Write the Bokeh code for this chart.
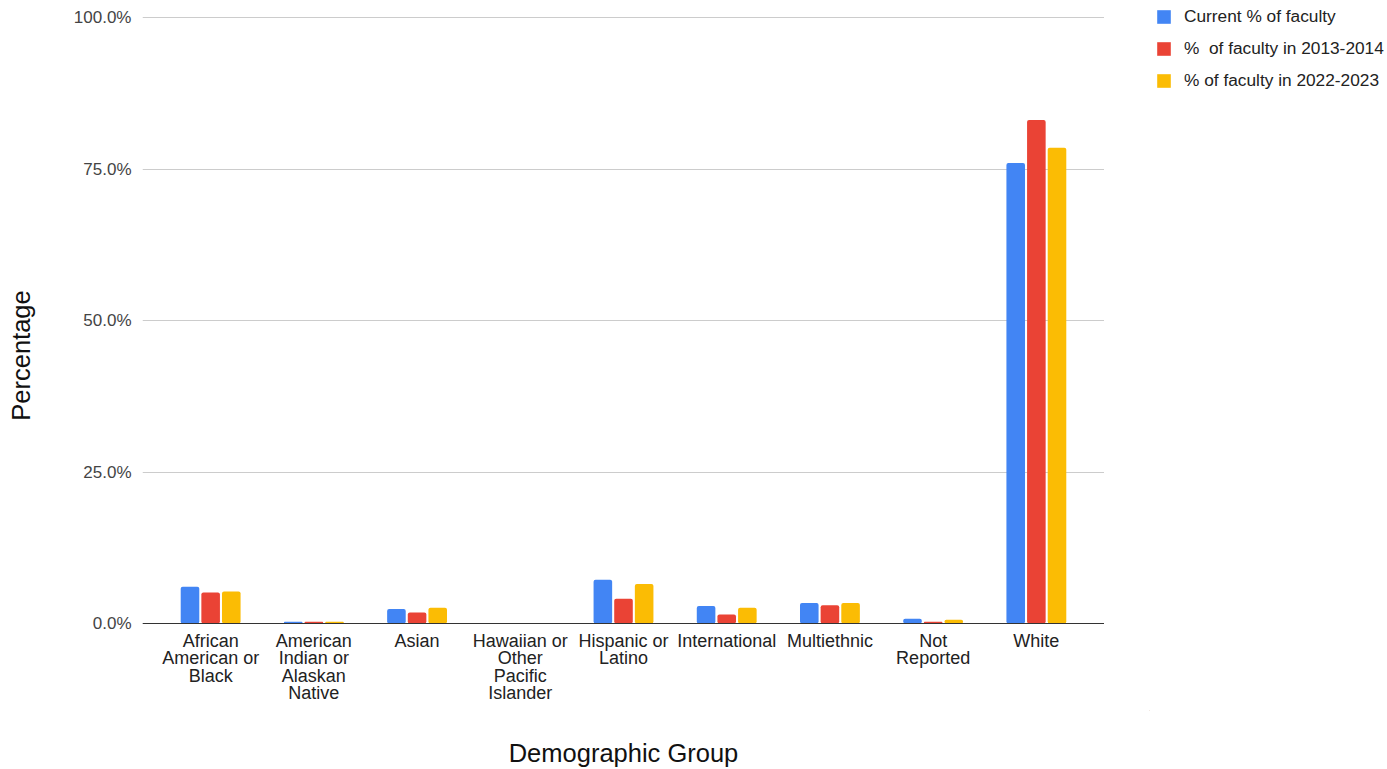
from bokeh.plotting import figure
from bokeh.layouts import row
from bokeh.models import (ColumnDataSource, FactorRange, FixedTicker, Legend, LegendItem, Span)
from bokeh.transform import dodge
from bokeh.embed import file_html
from bokeh.resources import INLINE

categories = ["African American or Black", "American Indian or Alaskan Native", "Asian",
              "Hawaiian or Other Pacific Islander", "Hispanic or Latino", "International",
              "Multiethnic", "Not Reported", "White"]
category_lines = [["African", "American or", "Black"], ["American", "Indian or", "Alaskan", "Native"],
                  ["Asian"], ["Hawaiian or", "Other", "Pacific", "Islander"], ["Hispanic or", "Latino"],
                  ["International"], ["Multiethnic"], ["Not", "Reported"], ["White"]]
current_pct = [6.05, 0.3, 2.4, 0.0, 7.2, 2.9, 3.4, 0.8, 76.0]
pct_2013_2014 = [5.1, 0.3, 1.8, 0.1, 4.1, 1.5, 3.0, 0.3, 83.1]
pct_2022_2023 = [5.3, 0.3, 2.6, 0.0, 6.5, 2.6, 3.4, 0.6, 78.5]
series_names = ["Current % of faculty", "%  of faculty in 2013-2014", "% of faculty in 2022-2023"]
colors = ["#4285F4", "#EA4335", "#FBBC04"]
y_ticks = [0, 25, 50, 75, 100]

FONT = "Liberation Sans"

# layout geometry (pixels)
W_MAIN, W_SIDE, H = 1104, 283, 769
TOP_100, ZERO_Y, FRAME_BOTTOM, LEFT = 17, 623, 710, 142
px_per_unit = (ZERO_Y - TOP_100) / 100.0
y_start = -(FRAME_BOTTOM - ZERO_Y) / px_per_unit
y_end = 100 + TOP_100 / px_per_unit

source = ColumnDataSource(dict(cat=categories, a=current_pct, b=pct_2013_2014, c=pct_2022_2023))

p = figure(width=W_MAIN, height=H, x_range=FactorRange(*categories, range_padding=0.0356),
           y_range=(y_start, y_end), output_backend="svg", toolbar_location=None,
           min_border_left=LEFT, min_border_right=0, min_border_top=0,
           min_border_bottom=H - FRAME_BOTTOM)
p.outline_line_color = None

renderers = []
for key, off, col in zip(["a", "b", "c"], [-0.2, 0.0, 0.2], colors):
    r = p.vbar(x=dodge("cat", off, range=p.x_range), top=key, width=0.18, source=source,
               fill_color=col, line_color=None, border_radius=2)
    renderers.append(r)

p.add_layout(Span(location=0, dimension="width", line_color="#333333", line_width=1))

# multi-line category labels under the baseline
lab_x, lab_t, lab_dy = [], [], []
for cat, lines in zip(categories, category_lines):
    for j, line in enumerate(lines):
        lab_x.append(cat)
        lab_t.append(line)
        lab_dy.append(17 + 17.5 * j)
lab_src = ColumnDataSource(dict(x=lab_x, y=[0] * len(lab_x), t=lab_t, dy=lab_dy))
p.text(x="x", y="y", text="t", y_offset="dy", source=lab_src, text_align="center",
       text_baseline="middle", text_font={"value": FONT}, text_font_size="18px",
       text_color="#222222")

# x axis: only the title
p.xaxis.ticker = FixedTicker(ticks=[])
p.xaxis.axis_line_color = None
p.xaxis.major_tick_line_color = None
p.xaxis.minor_tick_line_color = None
p.xaxis.axis_label = "Demographic Group"
p.xaxis.axis_label_text_font = FONT
p.xaxis.axis_label_text_font_size = "25.5px"
p.xaxis.axis_label_text_font_style = "normal"
p.xaxis.axis_label_text_color = "#111111"
p.xaxis.axis_label_standoff = 28
p.xgrid.grid_line_color = None

p.yaxis.ticker = FixedTicker(ticks=y_ticks)
p.yaxis.major_label_overrides = {t: f"{t:.1f}%" for t in y_ticks}
p.yaxis.major_tick_line_color = None
p.yaxis.minor_tick_line_color = None
p.yaxis.axis_line_color = None
p.yaxis.major_label_text_font = FONT
p.yaxis.major_label_text_font_size = "17px"
p.yaxis.major_label_text_color = "#444444"
p.yaxis.major_label_standoff = 5
p.yaxis.axis_label = "Percentage"
p.yaxis.axis_label_text_font = FONT
p.yaxis.axis_label_text_font_size = "25.5px"
p.yaxis.axis_label_text_font_style = "normal"
p.yaxis.axis_label_text_color = "#111111"
p.yaxis.axis_label_standoff = 36
p.ygrid.grid_line_color = "#CCCCCC"

# side panel holding the legend
s = figure(width=W_SIDE, height=H, x_range=(1, 2), y_range=(1, 2), output_backend="svg",
           toolbar_location=None, x_axis_location=None, y_axis_location=None, title=None,
           min_border_left=45, min_border_right=0, min_border_top=0, min_border_bottom=0)
s.outline_line_color = None
s.grid.grid_line_color = None
key_src = ColumnDataSource(dict(x=[0], top=[0]))  # legend key carrier, outside the visible range
side_items = []
for name, col in zip(series_names, colors):
    rr = s.vbar(x="x", top="top", width=0.1, fill_color=col, line_color=None, source=key_src)
    side_items.append(LegendItem(label=name, renderers=[rr]))
legend = Legend(items=side_items, location="top_left", orientation="vertical",
                glyph_width=17, glyph_height=17, label_height=17, spacing=11,
                label_standoff=12, padding=0, margin=6, border_line_color=None,
                background_fill_alpha=0,
                label_text_font=FONT, label_text_font_size="17.3px", label_text_color="#222222")
s.add_layout(legend)

layout = row(p, s, spacing=0)
open("out.html", "w").write(file_html(layout, INLINE))
